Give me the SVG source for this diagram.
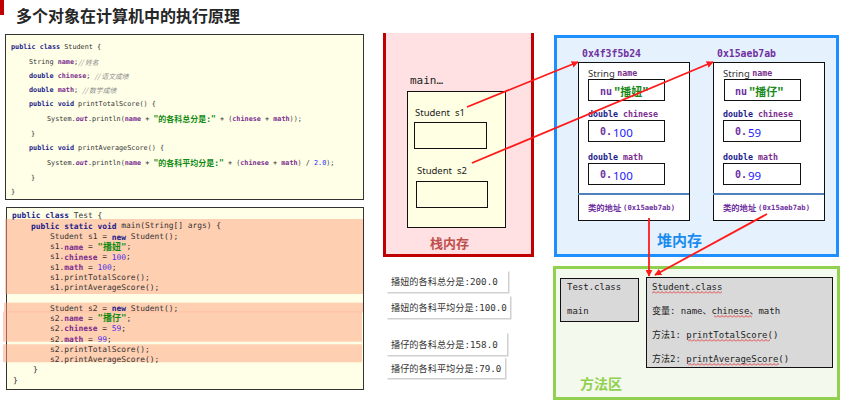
<svg xmlns="http://www.w3.org/2000/svg" width="851" height="403" viewBox="0 0 851 403">
<style>
text{dominant-baseline:central;white-space:pre}
.t1{font-family:"DejaVu Sans Mono","Noto Sans CJK SC",monospace;font-size:6.8px;fill:#333}
.t2{font-family:"DejaVu Sans Mono","Noto Sans CJK SC",monospace;font-size:7.9px;fill:#333}
.kw{fill:#1c1c8a;font-weight:bold}
.fd{fill:#7b2d8e;font-weight:bold}
.cm{fill:#8a8a8a;font-style:italic;font-family:"Noto Sans CJK SC",sans-serif}
.st{fill:#128a12;font-weight:bold;font-size:8px}
.st2{fill:#128a12;font-weight:bold;font-size:9px}
.nb{fill:#2a2aff}
.nb2{fill:#4a2ee6}
.ot{fill:#7b2d8e;font-style:italic;font-weight:bold}
.code{fill:#ffffe8;stroke:#333;stroke-width:1}
.hl{fill:#ff9f7a;fill-opacity:0.5}
.lbl{font-family:"Noto Sans","Noto Sans CJK SC",sans-serif;font-size:9.5px;fill:#222}
.addr{font-family:"DejaVu Sans Mono",monospace;font-size:9.8px;font-weight:bold;fill:#7030a0}
.obj{fill:#fff;stroke:#111;stroke-width:1}
.fbox{fill:#fff;stroke:#111;stroke-width:1}
.ft{font-family:"DejaVu Sans Mono",monospace;font-size:8.3px;font-weight:bold}
.sl{font-family:"Noto Sans",sans-serif;font-size:9.5px;fill:#333}
.pv{font-family:"DejaVu Sans Mono",monospace;font-size:10px;font-weight:bold;fill:#7030a0}
.bv{font-family:"Noto Sans",sans-serif;font-size:11.5px;fill:#1a1aff}
.gv{font-family:"Noto Sans CJK SC",sans-serif;font-size:11px;font-weight:bold;fill:#1a8a1a}
.cls{font-family:"Noto Sans CJK SC",sans-serif;font-size:8.3px;font-weight:bold;fill:#7030a0}
.clsm{font-family:"DejaVu Sans Mono",monospace;font-size:7.2px;font-weight:bold;fill:#7030a0}
.sep{stroke:#4f81bd;stroke-width:2}
.mb{fill:#d9d9d9;stroke:#111;stroke-width:1}
.mt{font-family:"DejaVu Sans Mono","Noto Sans CJK SC",monospace;font-size:9px;fill:#222}
.card{fill:#fff}
.shd{fill:#d0d0d0}
.ct{font-family:"Noto Sans CJK SC",sans-serif;font-size:9.2px;fill:#333}
.ctm{font-family:"DejaVu Sans Mono",monospace}
.arr{stroke:#ff1a1a;stroke-width:1.8;fill:none;marker-end:url(#ah)}
</style>
<defs>
<marker id="ah" viewBox="0 0 10 10" refX="9" refY="5" markerWidth="7" markerHeight="7" orient="auto" markerUnits="userSpaceOnUse">
<path d="M0,0 L10,5 L0,10 z" fill="#ff1a1a"/>
</marker>
<pattern id="wave" x="0" y="0" width="4" height="3" patternUnits="userSpaceOnUse">
<polyline points="0,2.5 2,0.5 4,2.5" fill="none" stroke="#e02020" stroke-width="0.8"/>
</pattern>
</defs>

<rect width="851" height="403" fill="#fff"/>

<g id="title">
<rect x="0" y="0" width="4" height="15" fill="#c00000"/>
<text x="16" y="15" font-family="Noto Sans CJK SC, sans-serif" font-size="16" font-weight="bold" fill="#262626">多个对象在计算机中的执行原理</text>
</g>

<g id="code-student">
<rect class="code" x="5.5" y="34.5" width="358" height="165"/>
<text class="t1" x="11" y="46.7"><tspan class="kw">public class</tspan> Student {</text>
<text class="t1" x="29" y="61.7">String <tspan class="fd">name</tspan>;<tspan class="cm">// 姓名</tspan></text>
<text class="t1" x="29" y="75.7"><tspan class="kw">double</tspan> <tspan class="fd">chinese</tspan>; <tspan class="cm">// 语文成绩</tspan></text>
<text class="t1" x="29" y="90"><tspan class="kw">double</tspan> <tspan class="fd">math</tspan>; <tspan class="cm">// 数学成绩</tspan></text>
<text class="t1" x="29" y="104.3"><tspan class="kw">public void</tspan> printTotalScore() {</text>
<text class="t1" x="47" y="119.3">System.<tspan class="ot">out</tspan>.println(<tspan class="fd">name</tspan> + <tspan class="st">"的各科总分是:"</tspan> + (<tspan class="fd">chinese</tspan> + <tspan class="fd">math</tspan>));</text>
<text class="t1" x="31" y="134">}</text>
<text class="t1" x="29" y="148.3"><tspan class="kw">public void</tspan> printAverageScore() {</text>
<text class="t1" x="47" y="163.3">System.<tspan class="ot">out</tspan>.println(<tspan class="fd">name</tspan> + <tspan class="st">"的各科平均分是:"</tspan> + (<tspan class="fd">chinese</tspan> + <tspan class="fd">math</tspan>) / <tspan class="nb">2.0</tspan>);</text>
<text class="t1" x="31" y="178.3">}</text>
<text class="t1" x="11" y="191.7">}</text>
</g>

<g id="code-test">
<rect class="code" x="6.5" y="207.5" width="357" height="182"/>
<rect class="hl" x="5" y="219" width="358" height="75"/>
<rect class="hl" x="4" y="302.7" width="359" height="9.6"/>
<rect class="hl" x="3" y="311.7" width="359" height="30"/>
<rect class="hl" x="3" y="344.3" width="359" height="18"/>
<text class="t2" x="12" y="215"><tspan class="kw">public class</tspan> Test {</text>
<text class="t2" x="31" y="225.7"><tspan class="kw">public static void</tspan> main(String[] args) {</text>
<text class="t2" x="50" y="236.7">Student s1 = <tspan class="kw">new</tspan> Student();</text>
<text class="t2" x="50" y="246.7">s1.<tspan class="fd">name</tspan> = <tspan class="st2">"播妞"</tspan>;</text>
<text class="t2" x="50" y="256.7">s1.<tspan class="fd">chinese</tspan> = <tspan class="nb2">100</tspan>;</text>
<text class="t2" x="50" y="267.3">s1.<tspan class="fd">math</tspan> = <tspan class="nb2">100</tspan>;</text>
<text class="t2" x="50" y="277.3">s1.printTotalScore();</text>
<text class="t2" x="50" y="287.3">s1.printAverageScore();</text>
<text class="t2" x="50" y="308.3">Student s2 = <tspan class="kw">new</tspan> Student();</text>
<text class="t2" x="50" y="318.3">s2.<tspan class="fd">name</tspan> = <tspan class="st2">"播仔"</tspan>;</text>
<text class="t2" x="50" y="328.3">s2.<tspan class="fd">chinese</tspan> = <tspan class="nb2">59</tspan>;</text>
<text class="t2" x="50" y="339">s2.<tspan class="fd">math</tspan> = <tspan class="nb2">99</tspan>;</text>
<text class="t2" x="50" y="349.3">s2.printTotalScore();</text>
<text class="t2" x="50" y="359.3">s2.printAverageScore();</text>
<text class="t2" x="33" y="369.3">}</text>
<text class="t2" x="13" y="380">}</text>
</g>

<g id="stack">
<rect x="383" y="33" width="151" height="224" fill="#ffe1e3"/>
<path d="M384.5,33 V255.5 H532.5 V33" fill="none" stroke="#c00000" stroke-width="3"/>
<text x="410" y="80" font-family="DejaVu Sans Mono, monospace" font-size="11" fill="#222">main…</text>
<rect x="407.5" y="91.5" width="98" height="136" fill="#ffffe3" stroke="#111" stroke-width="1"/>
<text class="lbl" x="415" y="112">Student  s1</text>
<rect x="414.5" y="122.5" width="72" height="26" fill="#ffffe3" stroke="#111" stroke-width="1"/>
<text class="lbl" x="417" y="170">Student  s2</text>
<rect x="416.5" y="181.5" width="71" height="26" fill="#ffffe3" stroke="#111" stroke-width="1"/>
<text x="430" y="242" font-family="Noto Sans CJK SC, sans-serif" font-size="13" font-weight="bold" fill="#c0504d">栈内存</text>
</g>

<g id="heap">
<rect x="555.5" y="36.5" width="282" height="219" fill="#e5f1fd" stroke="#1e8fff" stroke-width="3"/>
<text x="657" y="239" font-family="Noto Sans CJK SC, sans-serif" font-size="15" font-weight="bold" fill="#1a8cf0">堆内存</text>
</g>

<g id="obj1">
<text class="addr" x="582" y="53">0x4f3f5b24</text>
<rect class="obj" x="578.5" y="62.5" width="111" height="158"/>
<text x="588" y="73"><tspan class="sl">String </tspan><tspan class="ft" fill="#7b2d8e">name</tspan></text>
<rect class="fbox" x="588.5" y="79.5" width="76" height="21"/>
<text class="pv" x="600" y="91">nu</text>
<text class="gv" x="614" y="91">"播妞"</text>
<text class="ft" x="588" y="114"><tspan fill="#1c1c8a">double</tspan> <tspan fill="#7b2d8e">chinese</tspan></text>
<rect class="fbox" x="588.5" y="120.5" width="76" height="21"/>
<text class="pv" x="600" y="131">0.</text>
<text class="bv" x="613" y="132.5">100</text>
<text class="ft" x="588" y="157"><tspan fill="#1c1c8a">double</tspan> <tspan fill="#7b2d8e">math</tspan></text>
<rect class="fbox" x="588.5" y="163.5" width="76" height="21"/>
<text class="pv" x="600" y="174">0.</text>
<text class="bv" x="613" y="175.5">100</text>
<line class="sep" x1="578" y1="194" x2="689" y2="194"/>
<text x="588" y="207"><tspan class="cls">类的地址 </tspan><tspan class="clsm">(0x15aeb7ab)</tspan></text>
</g>

<g id="obj2">
<text class="addr" x="717" y="53">0x15aeb7ab</text>
<rect class="obj" x="713.5" y="62.5" width="111" height="158"/>
<text x="723" y="73"><tspan class="sl">String </tspan><tspan class="ft" fill="#7b2d8e">name</tspan></text>
<rect class="fbox" x="724.5" y="79.5" width="76" height="21"/>
<text class="pv" x="735" y="91">nu</text>
<text class="gv" x="749" y="91">"播仔"</text>
<text class="ft" x="723" y="114"><tspan fill="#1c1c8a">double</tspan> <tspan fill="#7b2d8e">chinese</tspan></text>
<rect class="fbox" x="723.5" y="120.5" width="77" height="21"/>
<text class="pv" x="735" y="131">0.</text>
<text class="bv" x="748" y="132.5">59</text>
<text class="ft" x="723" y="157"><tspan fill="#1c1c8a">double</tspan> <tspan fill="#7b2d8e">math</tspan></text>
<rect class="fbox" x="723.5" y="163.5" width="77" height="21"/>
<text class="pv" x="735" y="174">0.</text>
<text class="bv" x="748" y="175.5">99</text>
<line class="sep" x1="713" y1="194" x2="824" y2="194"/>
<text x="723" y="207"><tspan class="cls">类的地址 </tspan><tspan class="clsm">(0x15aeb7ab)</tspan></text>
</g>

<g id="method-area">
<rect x="554.5" y="267.5" width="284" height="131" fill="#f3f9ec" stroke="#92d050" stroke-width="3"/>
<text x="580" y="383" font-family="Noto Sans CJK SC, sans-serif" font-size="14" font-weight="bold" fill="#92d050">方法区</text>
</g>

<g id="test-class">
<rect class="mb" x="560.5" y="278.5" width="78" height="43"/>
<text class="mt" x="567" y="287">Test.class</text>
<text class="mt" x="567" y="311">main</text>
</g>

<g id="student-class">
<rect class="mb" x="646.5" y="277.5" width="186" height="90"/>
<text class="mt" x="652" y="287">Student.class</text>
<text class="mt" x="652" y="311">变量: name、chinese、math</text>
<text class="mt" x="652" y="335">方法1: printTotalScore()</text>
<text class="mt" x="652" y="359">方法2: printAverageScore()</text>
<rect x="652" y="291" width="70" height="3" fill="url(#wave)"/>
<rect x="714" y="315" width="38" height="3" fill="url(#wave)"/>
<rect x="688" y="339" width="82" height="3" fill="url(#wave)"/>
<rect x="688" y="363" width="91" height="3" fill="url(#wave)"/>
</g>

<g id="output">
<rect class="shd" x="387.5" y="271.5" width="122" height="22"/>
<rect class="card" x="386" y="270" width="122" height="22"/>
<text class="ct" x="391" y="281">播妞的各科总分是<tspan class="ctm">:200.0</tspan></text>
<rect class="shd" x="387.5" y="296.5" width="124" height="23"/>
<rect class="card" x="386" y="295" width="124" height="23"/>
<text class="ct" x="391" y="307">播妞的各科平均分是<tspan class="ctm">:100.0</tspan></text>
<rect class="shd" x="387.5" y="333.5" width="121" height="23"/>
<rect class="card" x="386" y="332" width="121" height="23"/>
<text class="ct" x="391" y="343.5">播仔的各科总分是<tspan class="ctm">:158.0</tspan></text>
<rect class="shd" x="387.5" y="358.5" width="119" height="21"/>
<rect class="card" x="386" y="357" width="119" height="21"/>
<text class="ct" x="391" y="368">播仔的各科平均分是<tspan class="ctm">:79.0</tspan></text>
</g>

<g id="connectors">
<line class="arr" x1="467" y1="107" x2="578" y2="62"/>
<line class="arr" x1="472" y1="163" x2="713" y2="62"/>
<line class="arr" x1="649" y1="218" x2="649" y2="276"/>
<line class="arr" x1="767" y1="214" x2="655" y2="275"/>
</g>
</svg>
